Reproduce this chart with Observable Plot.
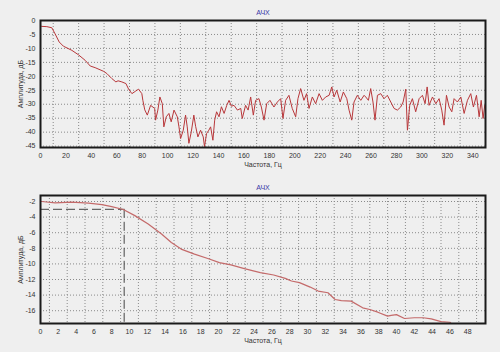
<!DOCTYPE html>
<html><head><meta charset="utf-8">
<script src="https://cdn.jsdelivr.net/npm/d3@7"></script>
<script src="https://cdn.jsdelivr.net/npm/@observablehq/plot@0.6"></script>
<style>
html,body{margin:0;padding:0;background:#efefef;}
#wrap{width:500px;height:352px;overflow:hidden;}
.panel{width:500px;height:176px;position:relative;}
#p1{border-bottom:1px solid #c9c9c9;height:175px;}
</style></head><body>
<div id="wrap"><div id="p1" class="panel"></div><div id="p2" class="panel"></div></div>
<script>
// ---- data ----
const chartTitle = "АЧХ";
const xLabel = "Частота, Гц";
const yLabel = "Амплитуда, дБ";

// top panel: broadband response (Hz, dB)
const topFreq = [0,1,5,8.9,11.5,14.7,18,24.7,29.9,35.2,39.1,43,49.6,52.2,56.1,59.3,61,64,67.2,69.3,71.9,74.5,77.1,79.7,80.5,82,84,86.6,89.8,90.5,92.3,93.9,95.8,97,98.9,101,102.8,105,107.6,108.9,110.2,112.3,114.1,115.4,116.7,118.6,120.6,122,123.8,125.9,128,129,130.6,132.4,133.8,135.6,137,138.5,140.4,142.3,144.4,146.5,148.3,150.1,152.2,154.9,157.5,158.7,161.3,163.3,165.3,167.4,169.2,171.8,173.7,175.8,177.9,180.5,183.6,186.3,188.9,190.7,192.8,195.4,198,200.7,202.5,204.6,207.2,209.3,211.2,213.8,216.4,219.1,221.7,224.3,227,229.1,230.9,233,235.7,238.2,240.9,242.7,244.8,246.6,249.2,251.9,254.5,255.8,257.9,259.7,261.5,263.1,265,267.6,270.2,272.8,275.5,278.1,280.7,283.3,285.2,287.3,288.6,290.4,292.5,295.1,297.8,300.4,302.5,304.1,305.6,308.3,310.9,313.5,315.6,317.4,319.3,321.4,323.5,325.3,327.9,330.6,333.2,335.8,338.4,340.5,342.9,345,346.6,348.1,349.4];
const topAmp = [-2.0,-2.1,-2.2,-2.6,-4.8,-7.7,-9.2,-10.7,-12.3,-14.3,-16.3,-16.9,-18.2,-19.0,-20.8,-22.0,-21.6,-22.0,-22.6,-24.6,-26.2,-25.4,-24.6,-26.2,-28.6,-32.0,-33.9,-30.4,-31.5,-35.7,-32.1,-27.4,-29.8,-38.1,-34.5,-33.3,-36.3,-32.1,-34.5,-38.1,-42.3,-39.3,-33.9,-38.1,-44.0,-39.9,-33.9,-37.9,-41.7,-39.3,-41.7,-45.2,-40.5,-39.3,-38.1,-42.9,-35.7,-32.7,-34.5,-30.9,-33.3,-30.4,-28.6,-30.7,-30.4,-32.1,-31.5,-35.1,-30.4,-32.1,-27.4,-33.9,-28.6,-28.0,-31.0,-35.7,-29.8,-28.6,-31.0,-29.2,-28.0,-35.1,-28.6,-26.8,-31.5,-34.5,-28.0,-24.4,-28.6,-26.2,-31.5,-27.4,-29.8,-26.2,-28.6,-27.4,-26.8,-23.8,-27.4,-25.0,-29.2,-25.6,-28.0,-32.1,-35.7,-29.2,-26.8,-28.6,-26.8,-27.4,-28.6,-24.4,-29.2,-35.7,-26.8,-26.2,-28.0,-26.8,-29.2,-31.5,-32.1,-31.0,-29.2,-24.6,-39.3,-30.4,-28.0,-32.7,-28.0,-26.8,-29.8,-23.8,-30.4,-27.4,-29.8,-28.0,-32.1,-37.5,-26.8,-31.0,-32.7,-28.0,-29.2,-27.4,-33.3,-28.6,-26.2,-31.0,-26.8,-34.5,-28.6,-35.1,-30.4];

// bottom panel: low-frequency response (Hz, dB)
const botFreq = [0,0.15,1.64,3.5,5.4,6.9,8.0,9.3,10.6,12.1,13.6,14.7,15.8,17.3,18.8,20.1,21.4,22.9,24.7,26.2,27.5,28.2,29.1,30.3,31.2,32.3,33.1,33.8,34.9,36.2,37.0,37.9,39.0,39.4,40.0,40.9,42.0,43.0,43.9,45.0,46.0,46.1];
const botAmp = [-2.0,-2.0,-2.17,-2.09,-2.22,-2.39,-2.65,-3.03,-3.81,-4.88,-6.17,-7.25,-8.1,-8.75,-9.3,-9.83,-10.13,-10.6,-11.12,-11.42,-11.85,-12.19,-12.4,-12.97,-13.48,-13.7,-14.56,-14.7,-14.77,-15.63,-15.85,-16.19,-16.7,-16.6,-16.5,-17.0,-16.9,-16.9,-17.05,-17.4,-17.48,-17.6];

// cutoff marker (-3 dB point)
const cutoffFreq = 9.4;
const cutoffLevel = -3;

// tick labels / grid positions
const topXTicks = d3.range(0, 341, 20);
const topXGrid = d3.range(10, 350, 20);
const topYTicks = d3.range(0, -46, -5);
const botXTicks = d3.range(0, 49, 2);
const botXGrid = d3.range(1, 50, 2);
const botYTicks = d3.range(-2, -17, -2);

const topDomainX = [0, 350], topDomainY = [-45.5, 0];
const botDomainX = [0, 50], botDomainY = [-17.64, -1.23];

const topData = topFreq.map((f, i) => ({f, a: topAmp[i]}));
const botData = botFreq.map((f, i) => ({f, a: botAmp[i]}));

const fmt = d => String(d);
const common = (mt, mb) => ({
  width: 500, height: 176,
  marginLeft: 40, marginRight: 15, marginTop: mt, marginBottom: mb,
  style: {background: "#efefef", fontSize: "7px", fontFamily: "'Liberation Sans', Arial, sans-serif", color: "#333", overflow: "visible"}
});
const gridStyle = {stroke: "#8a8a8a", strokeDasharray: "1,2", strokeWidth: 1};

function panel(opts) {
  return Plot.plot({
    ...common(opts.mt, opts.mb),
    x: {domain: opts.dx, ticks: opts.xt, tickFormat: fmt, tickSize: 0, tickPadding: 6, label: xLabel, labelAnchor: "center", labelOffset: 19, labelArrow: "none"},
    y: {domain: opts.dy, ticks: opts.yt, tickFormat: fmt, tickSize: 0, tickPadding: 5, label: yLabel, labelAnchor: "center", labelOffset: 22, labelArrow: "none"},
    marks: [
      Plot.ruleX(opts.xg, gridStyle),
      Plot.ruleY(opts.yt, gridStyle),
      ...(opts.extra || []),
      Plot.line(opts.data, {x: "f", y: "a", stroke: opts.color, strokeWidth: opts.sw}),
      Plot.frame({stroke: "#1a1a1a", strokeWidth: 2}),
      Plot.text([chartTitle], {frameAnchor: "top", dy: -10, fill: "#3a3aa8", fontSize: 7})
    ]
  });
}

document.getElementById("p1").appendChild(panel({
  mt: 20, mb: 29, dx: topDomainX, dy: topDomainY, xt: topXTicks, xg: topXGrid, yt: topYTicks,
  data: topData, color: "#b8373a", sw: 1
}));
document.getElementById("p2").appendChild(panel({
  mt: 19, mb: 29, dx: botDomainX, dy: botDomainY, xt: botXTicks, xg: botXGrid, yt: botYTicks,
  data: botData, color: "#c46a6a", sw: 1.2,
  extra: [
    Plot.ruleY([cutoffLevel], {x1: botDomainX[0], x2: cutoffFreq, stroke: "#444", strokeDasharray: "9,4", strokeWidth: 1}),
    Plot.ruleX([cutoffFreq], {y1: cutoffLevel, y2: botDomainY[0], stroke: "#444", strokeDasharray: "9,4", strokeWidth: 1})
  ]
}));
</script></body></html>
